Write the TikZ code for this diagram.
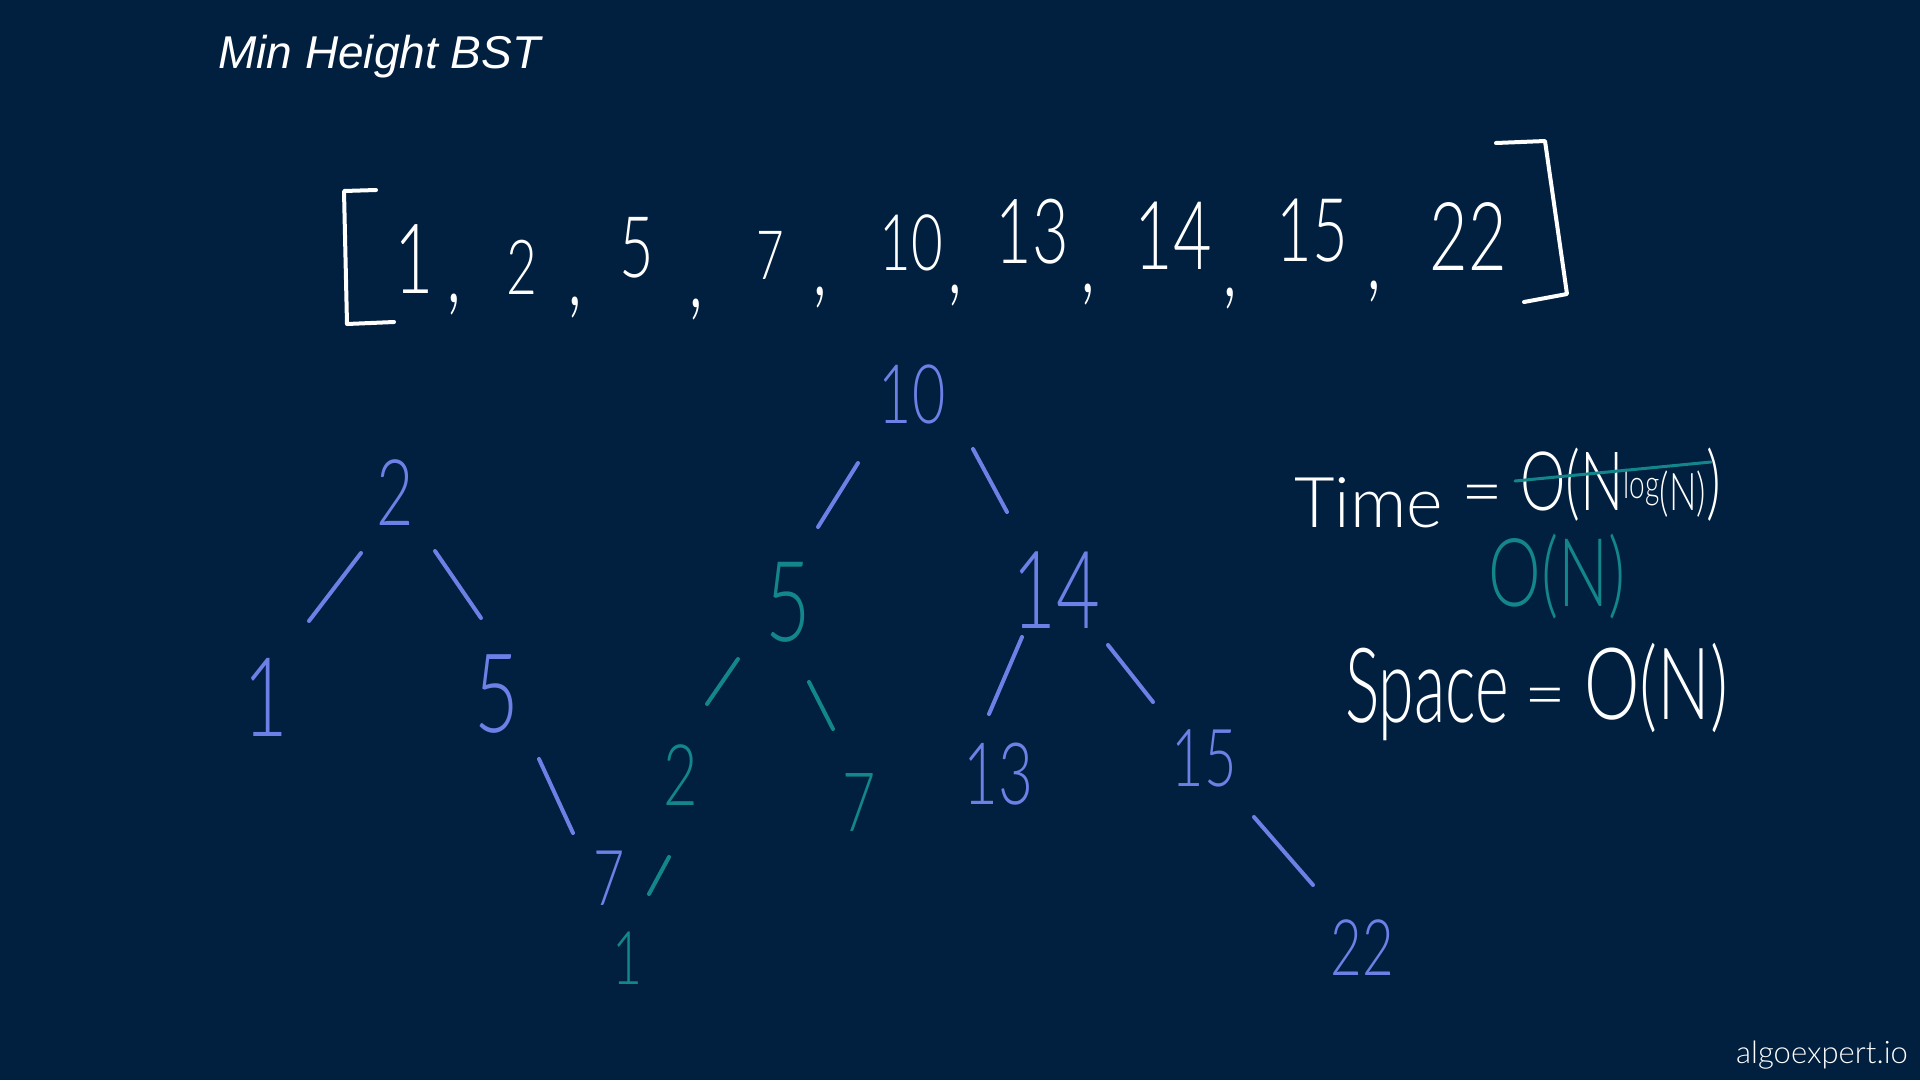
\documentclass[tikz,border=0pt]{standalone}
\usepackage{fontspec}
\setmainfont{Liberation Sans}
\newfontfamily\hand{Lato Light}
\newfontfamily\handd{Lato Light}[FakeStretch=0.7]
\newfontfamily\handn{Lato Light}[FakeStretch=0.7]
\newfontfamily\hands{Lato Light}[FakeStretch=0.62]
\usetikzlibrary{calc}
\definecolor{bg}{HTML}{011F3F}
\definecolor{nblue}{HTML}{6C80E6}
\definecolor{nteal}{HTML}{13868B}
\begin{document}
\begin{tikzpicture}[x=1pt,y=-1pt,
  num/.style={inner sep=0pt, font=\handd\fontsize{#1}{#1}\selectfont}, num/.default=90,
  bn/.style={num=#1, text=nblue}, bn/.default=90,
  tn/.style={num=#1, text=nteal}, tn/.default=90,
  wn/.style={num=#1, text=white}, wn/.default=90,
  be/.style={draw=nblue, line width=4pt, line cap=round},
  te/.style={draw=nteal, line width=4pt, line cap=round},
  wl/.style={draw=white, line width=4pt, line cap=round, line join=round}]
\fill[bg] (0,0) rectangle (1920,1080);
\useasboundingbox (0,0) rectangle (1920,1080);

% title and brand
\node[anchor=base west, inner sep=0pt, text=white, font=\itshape\fontsize{46}{46}\selectfont] (title) at (218,68) {Min Height BST};
\node[anchor=base east, inner sep=0pt, text=white, font=\hand\fontsize{31}{31}\selectfont] (brand) at (1908,1063) {algoexpert.io};

% array
\draw[wl] (376,190) -- (344,191) -- (347,324) -- (394,322);
\draw[wl] (1496,143) -- (1545,141) -- (1567,294) -- (1524,302);
\node[wn=97] (r1) at (414,259) {1};
\node[wn=76] (r2) at (522,267) {2};
\node[wn=85] (r5) at (637,248) {5};
\node[wn=68] (r7) at (770,255) {7};
\node[wn=78] (r10) at (911,243) {10};
\node[wn=90] (r13) at (1032,232) {13};
\node[wn=95] (r14) at (1173,236) {14};
\node[wn=88] (r15) at (1312,231) {15};
\node[wn=95] (r22) at (1468,237) {22};
\node[wn=100] (c1) at (454,305) {,};
\node[wn=100] (c2) at (575,308) {,};
\node[wn=100] (c3) at (696,310) {,};
\node[wn=100] (c4) at (820,298) {,};
\node[wn=100] (c5) at (955,296) {,};
\node[wn=100] (c6) at (1088,295) {,};
\node[wn=100] (c7) at (1230,299) {,};
\node[wn=100] (c8) at (1374,292) {,};

% left tree
\node[bn=92] (a2) at (395,493) {2};
\node[bn=110] (a1) at (266,697) {1};
\node[bn=110] (a5) at (497,694) {5};
\node[bn=77] (a7) at (609,878) {7};
\draw[be] ($(a2)+(-34,60)$) -- ($(a1)+(43,-76)$);
\draw[be] ($(a2)+(40,58)$) -- ($(a5)+(-16,-76)$);
\draw[be] ($(a5)+(42,65)$) -- ($(a7)+(-36,-45)$);

% right tree
\node[bn=82] (b10) at (912,394) {10};
\node[tn=112] (b5) at (788,602) {5};
\node[bn=108] (b14) at (1056,590) {14};
\node[tn=85] (b2) at (681,775) {2};
\node[tn=82] (b7) at (859,802) {7};
\node[tn=74] (b1) at (628,958) {1};
\node[bn=86] (b13) at (998,774) {13};
\node[bn=80] (b15) at (1204,758) {15};
\node[bn=78] (b22) at (1362,948) {22};
\draw[be] ($(b10)+(-54,69)$) -- ($(b5)+(30,-75)$);
\draw[be] ($(b10)+(61,55)$) -- ($(b14)+(-49,-78)$);
\draw[te] ($(b5)+(-50,57)$) -- ($(b2)+(26,-71)$);
\draw[te] ($(b5)+(21,80)$) -- ($(b7)+(-26,-73)$);
\draw[te] ($(b2)+(-12,82)$) -- ($(b1)+(21,-64)$);
\draw[be] ($(b14)+(-34,47)$) -- ($(b13)+(-9,-60)$);
\draw[be] ($(b14)+(52,55)$) -- ($(b15)+(-51,-56)$);
\draw[be] ($(b15)+(50,59)$) -- ($(b22)+(-49,-63)$);

% complexity
\node[anchor=base west, inner sep=0pt, text=white, font=\hand\fontsize{70}{70}\selectfont] (time) at (1294,527) {Time};
\node[inner sep=0pt, text=white, font=\hand\fontsize{72}{72}\selectfont] (eq1) at (1482,501) {=};
\node[anchor=west, inner sep=0pt, text=white, font=\handn] (tc) at (1520,485)
  {\fontsize{82}{82}\selectfont O(N\raisebox{12pt}{\fontsize{40}{40}\selectfont log}{\fontsize{52}{52}\selectfont(N)})};
\draw[te, line width=3pt] ($(tc.west)+(-5,-4)$) -- ($(tc.west)+(191,-23)$);
\node[inner sep=0pt, text=nteal, font=\handn\fontsize{95}{95}\selectfont] (tn2) at (1557,577) {O(N)};
\node[anchor=base west, inner sep=0pt, text=white, font=\hands\fontsize{104}{104}\selectfont] (space) at (1345,722) {Space};
\node[inner sep=0pt, text=white, font=\hand\fontsize{72}{72}\selectfont] (eq2) at (1545,704) {=};
\node[anchor=west, inner sep=0pt, text=white, font=\handn\fontsize{100}{100}\selectfont] (sc) at (1584,688) {O(N)};
\end{tikzpicture}
\end{document}
